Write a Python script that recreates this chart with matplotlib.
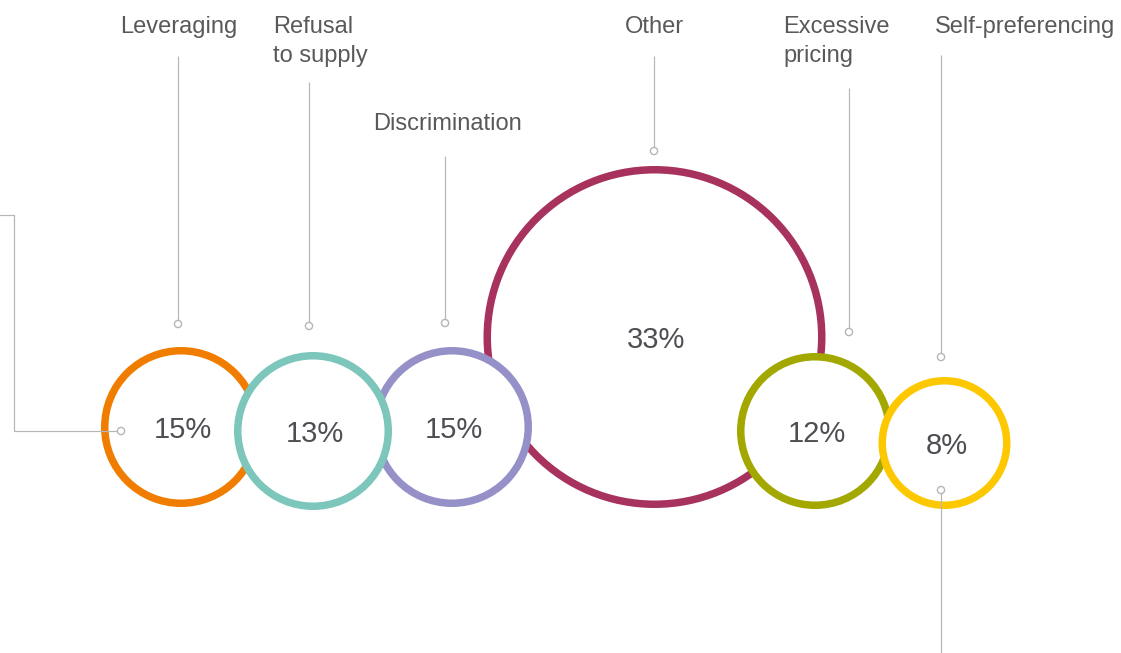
import matplotlib
matplotlib.use("Agg")
import matplotlib.pyplot as plt
from matplotlib.patches import Circle

plt.rcParams['font.family'] = ['Liberation Sans', 'DejaVu Sans']

# Share of cases by type of abuse
categories = ["Leveraging", "Refusal\nto supply", "Discrimination", "Other",
              "Excessive\npricing", "Self-preferencing"]
shares = [15, 13, 15, 33, 12, 8]
colors = ["#F07D00", "#7CC6BC", "#9591C8", "#A8325E", "#A2A800", "#FDC800"]

# Layout in pixel units (origin top-left)
centers = [(181, 427), (313, 431), (452, 427), (654.5, 337), (815, 431), (944.5, 443)]
outer_radii = [80, 79, 80, 171, 78, 66]
draw_order = [3, 0, 2, 1, 4, 5]
label_pos = [(120, 33), (273, 33), (373, 130), (625, 33), (783, 33), (935, 33)]
line_gap = 29
leader_x = [178, 309, 445, 654, 849, 941]
leader_top = [56, 82, 156, 56, 88, 55]
leader_dot = [324, 326, 323, 151, 332, 357]

W, H = 1121, 653
fig = plt.figure(figsize=(W / 100, H / 100), dpi=100)
ax = fig.add_axes([0, 0, 1, 1])
ax.set_xlim(0, W)
ax.set_ylim(H, 0)
ax.set_aspect('equal')
ax.axis('off')

ring_px = 7.5
pt = 0.72  # points per pixel at 100 dpi
grey = "#B4B6B8"
text_grey = "#58595B"

for i in draw_order:
    cx, cy = centers[i]
    r = outer_radii[i] - ring_px / 2
    ax.add_patch(Circle((cx, cy), r, facecolor="white", edgecolor=colors[i],
                        linewidth=ring_px * pt, zorder=2 + draw_order.index(i)))
    ax.text(cx + 2, cy + 10.5, f"{shares[i]}%", ha="center", va="baseline",
            fontsize=21, color="#4D4F53", zorder=20)


def dot(x, y):
    ax.add_patch(Circle((x, y), 3.6, facecolor="white", edgecolor=grey,
                        linewidth=1.4 * pt, zorder=30))


for i, name in enumerate(categories):
    lx, ly = label_pos[i]
    for k, part in enumerate(name.split("\n")):
        ax.text(lx, ly + k * line_gap, part, ha="left", va="baseline",
                fontsize=17, color=text_grey, zorder=30)
    x = leader_x[i]
    ax.plot([x, x], [leader_top[i], leader_dot[i] - 4], color=grey,
            lw=1.2 * pt, zorder=29, solid_capstyle='butt')
    dot(x, leader_dot[i])

# Extra leader below the smallest ring
ax.plot([941, 941], [494, H], color=grey, lw=1.2 * pt, zorder=29)
dot(941, 490)

# Elbow leader entering from the left edge
ax.plot([0, 14, 14, 117], [215, 215, 431, 431], color=grey, lw=1.2 * pt, zorder=29)
dot(121, 431)

fig.savefig("out.png", dpi=100, facecolor="white")
